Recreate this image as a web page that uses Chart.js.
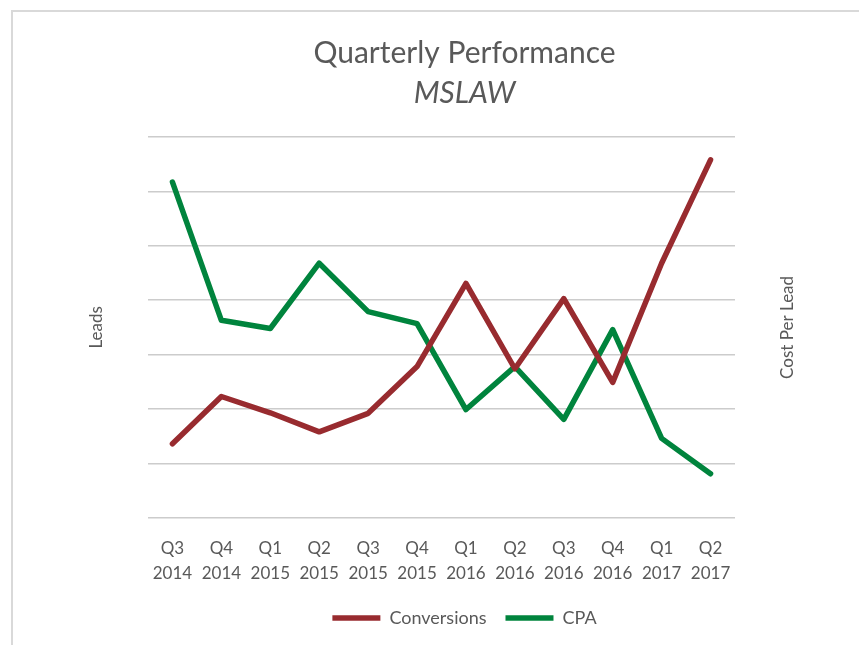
<!DOCTYPE html>
<html>
<head>
<meta charset="utf-8">
<script src="https://cdn.jsdelivr.net/npm/chart.js@4"></script>
<style>
  html, body { margin: 0; padding: 0; background: #fff; overflow: hidden; }
  .frame { position: absolute; left: 11px; top: 10px; width: 900px; height: 700px;
    border-top: 2px solid #d9d9d9; border-left: 2px solid #d9d9d9; }
  .wrap { position: absolute; left: 0; top: 0; width: 859px; height: 645px; }
</style>
</head>
<body>
<div class="frame"></div>
<div class="wrap"><canvas id="chart-quarterly"></canvas></div>
<script>
const quarters = [
  ['Q3', '2014'], ['Q4', '2014'], ['Q1', '2015'], ['Q2', '2015'],
  ['Q3', '2015'], ['Q4', '2015'], ['Q1', '2016'], ['Q2', '2016'],
  ['Q3', '2016'], ['Q4', '2016'], ['Q1', '2017'], ['Q2', '2017']
];
const conversions = [1.36, 2.23, 1.93, 1.58, 1.92, 2.78, 4.31, 2.74, 4.03, 2.49, 4.68, 6.58];
const cpa = [6.17, 3.63, 3.48, 4.68, 3.79, 3.57, 1.99, 2.78, 1.81, 3.46, 1.46, 0.81];

const textGray = `#595959`;
const fontFamily = `Lato, "Open Sans", sans-serif`;

// right axis title reads bottom-to-top like the left one
const rightTitle = {
  id: 'rightTitle',
  afterDraw(chart) {
    const { ctx, chartArea } = chart;
    ctx.save();
    ctx.translate(788, (chartArea.top + chartArea.bottom) / 2);
    ctx.rotate(-Math.PI / 2);
    ctx.font = `17px ${fontFamily}`;
    ctx.fillStyle = textGray;
    ctx.textAlign = 'center';
    ctx.textBaseline = 'middle';
    ctx.fillText('Cost Per Lead', 0, 0);
    ctx.restore();
  }
};

const quarterly = document.getElementById('chart-quarterly');
new Chart(quarterly, {
  type: `line`,
  data: {
    labels: quarters,
    datasets: [
      {
        label: `Conversions`,
        data: conversions,
        borderColor: `#982B2F`,
        backgroundColor: `#982B2F`,
        borderWidth: 5.5,
        borderCapStyle: 'round',
        borderJoinStyle: 'round',
        pointRadius: 0,
        tension: 0,
        yAxisID: 'y'
      },
      {
        label: `CPA`,
        data: cpa,
        borderColor: `#00843D`,
        backgroundColor: `#00843D`,
        borderWidth: 5.5,
        borderCapStyle: 'round',
        borderJoinStyle: 'round',
        pointRadius: 0,
        tension: 0,
        yAxisID: 'y1'
      }
    ]
  },
  plugins: [rightTitle],
  options: {
    responsive: true,
    maintainAspectRatio: false,
    animation: false,
    layout: { padding: { left: 70, right: 0, top: 0, bottom: 8 } },
    plugins: {
      title: {
        display: true,
        text: `Quarterly Performance`,
        color: textGray,
        font: { family: fontFamily, size: 30, weight: 'normal' },
        padding: { top: 35, bottom: 0 }
      },
      subtitle: {
        display: true,
        text: `MSLAW`,
        color: textGray,
        font: { family: fontFamily, size: 30, style: 'italic', weight: 'normal' },
        padding: { top: 4, bottom: 26 }
      },
      legend: {
        position: 'bottom',
        labels: {
          color: textGray,
          font: { family: fontFamily, size: 18 },
          usePointStyle: true,
          pointStyle: 'line',
          pointStyleWidth: 48,
          padding: 19
        }
      },
      tooltip: { enabled: false }
    },
    scales: {
      x: {
        offset: true,
        grid: { display: false, drawTicks: false },
        border: { display: false },
        ticks: {
          color: textGray,
          font: { family: fontFamily, size: 17, lineHeight: 1.45 },
          padding: 18.7,
          maxRotation: 0,
          autoSkip: false
        },
        afterFit(scale) { scale.height -= 14.5; }
      },
      y: {
        position: 'left',
        min: 0,
        max: 7,
        ticks: { display: false, stepSize: 1 },
        grid: { color: '#cccccc', lineWidth: 1.5, drawTicks: false },
        border: { display: false },
        title: {
          display: true,
          text: 'Leads',
          color: textGray,
          font: { family: fontFamily, size: 17 },
          padding: { top: 16.8, bottom: 40.8 }
        }
      },
      y1: {
        position: 'right',
        min: 0,
        max: 7,
        ticks: { display: false, stepSize: 1 },
        grid: { display: false, drawTicks: false },
        border: { display: false },
        afterFit(scale) { scale.width = 124; }
      }
    }
  }
});
</script>
</body>
</html>
